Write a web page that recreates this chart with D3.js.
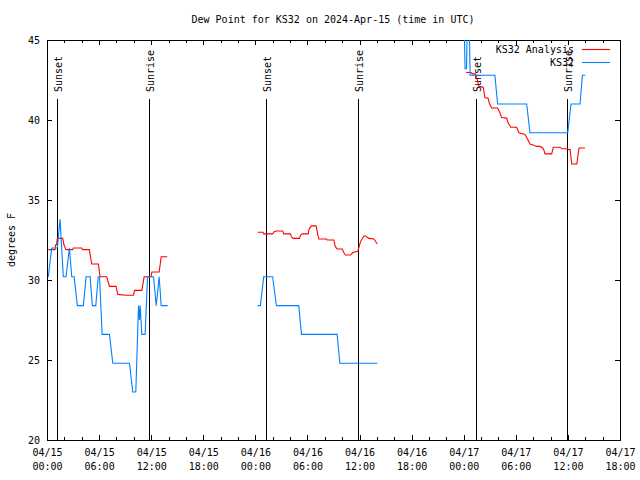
<!DOCTYPE html>
<html><head><meta charset="utf-8">
<script src="https://cdn.jsdelivr.net/npm/d3@7"></script>
<style>
body{margin:0;background:#fff;}
text{font-family:"DejaVu Sans Mono",monospace;font-size:10px;fill:#000;}
</style></head>
<body><svg id="c" width="640" height="480"></svg>
<script>
// hours after 2024-04-15 00:00 UTC
const titleText = "Dew Point for KS32 on 2024-Apr-15 (time in UTC)";
const yTicks = [20, 25, 30, 35, 40, 45];
const seriesNames = ["KS32 Analysis", "KS32"];
const seriesColors = ["#ff0000", "#0080ff"];
const sunLabels = ["Sunset", "Sunrise", "Sunset", "Sunrise", "Sunset", "Sunrise"];
const sunHours = [1.19, 11.78, 25.22, 35.82, 49.41, 59.89];

const analysis1 = [[0.15,31.9],[0.92,31.9],[1.0,32.2],[1.1,32.2],[1.19,32.6],[1.81,32.6],[1.95,32.2],[2.19,31.9],[2.95,31.9],[3.04,32.0],[4.0,32.0],[4.11,31.9],[4.88,31.9],[5.15,31.0],[5.92,31.0],[6.12,30.2],[6.88,30.2],[7.19,29.6],[7.96,29.6],[8.15,29.1],[9.12,29.05],[9.96,29.05],[10.08,29.35],[10.92,29.35],[11.19,30.2],[12.0,30.2],[12.08,30.5],[12.92,30.5],[13.15,31.45],[13.85,31.45]];
const analysis2 = [[24.27,32.98],[24.88,32.98],[24.96,32.88],[25.99,32.88],[26.12,33.0],[26.38,33.06],[27.15,33.06],[27.27,32.88],[28.04,32.88],[28.15,32.7],[28.35,32.6],[29.08,32.6],[29.2,32.8],[29.38,32.88],[30.08,32.88],[30.2,33.2],[30.46,33.38],[31.0,33.38],[31.2,32.8],[31.31,32.56],[32.19,32.56],[32.27,32.5],[33.04,32.5],[33.2,32.1],[33.42,31.94],[34.0,31.94],[34.2,31.7],[34.38,31.56],[34.96,31.56],[35.2,31.7],[35.54,31.77],[35.81,31.8],[36.11,32.4],[36.5,32.75],[36.69,32.75],[37.08,32.6],[37.65,32.56],[38.04,32.25]];
const analysis3 = [[48.25,42.98],[48.9,42.95],[49.0,42.88],[49.36,42.88],[49.59,42.46],[49.75,42.1],[50.25,42.05],[50.44,41.4],[50.82,41.35],[50.95,41.05],[51.21,40.75],[51.9,40.75],[52.17,40.45],[52.36,40.15],[52.94,40.12],[53.13,39.8],[53.44,39.55],[54.09,39.55],[54.36,39.2],[55.05,39.1],[55.36,38.8],[55.63,38.5],[55.9,38.45],[56.4,38.35],[56.78,38.35],[57.1,38.25],[57.25,38.1],[57.36,37.88],[58.13,37.88],[58.32,38.3],[59.09,38.3],[59.3,38.2],[59.67,38.2],[60.25,38.15],[60.44,37.25],[61.02,37.25],[61.28,38.25],[61.98,38.25]];

const obs1 = [[0.15,30.2],[0.54,32.0],[1.19,32.0],[1.5,33.8],[1.88,30.2],[2.19,30.2],[2.58,32.0],[2.85,30.2],[3.12,30.2],[3.5,28.4],[4.19,28.4],[4.5,30.2],[4.96,30.2],[5.23,28.4],[5.62,28.4],[5.9,30.2],[6.05,30.2],[6.35,26.6],[7.19,26.6],[7.58,24.8],[9.5,24.8],[9.88,23.0],[10.23,23.0],[10.54,28.4],[10.65,27.5],[10.73,28.4],[10.92,26.6],[11.3,26.6],[11.58,30.2],[12.27,30.2],[12.58,28.4],[12.92,30.2],[13.15,28.4],[13.92,28.4]];
const obs2 = [[24.27,28.4],[24.58,28.4],[24.96,30.2],[25.99,30.2],[26.42,28.4],[29.0,28.4],[29.31,26.6],[33.42,26.6],[33.73,24.8],[38.04,24.8]];
const obs3 = [[48.05,46.4],[48.15,43.2],[48.32,43.2],[48.42,46.4],[48.62,46.4],[48.74,42.8],[51.59,42.8],[51.9,41.0],[55.25,41.0],[55.63,39.2],[59.98,39.2],[60.36,41.0],[61.4,41.0],[61.67,42.8],[61.98,42.8]];

const analysisSegments = [analysis1, analysis2, analysis3];
const obsSegments = [obs1, obs2, obs3];

const base = Date.UTC(2024, 3, 15, 0, 0);
const toDate = h => new Date(base + h * 3600000);

const L = 47, R = 620, T = 40, B = 440;
const svg = d3.select("#c");
svg.append("rect").attr("width",640).attr("height",480).attr("fill","#fff");

const x = d3.scaleUtc().domain([toDate(0), toDate(66)]).range([L, R]);
const y = d3.scaleLinear().domain([20, 45]).range([B, T]);

svg.append("defs").append("clipPath").attr("id","clip")
  .append("rect").attr("x",L).attr("y",T).attr("width",R-L).attr("height",B-T);

// title
svg.append("text").attr("x",333).attr("y",23).attr("text-anchor","middle").text(titleText);

const majorTicks = d3.utcHour.every(6).range(toDate(0), toDate(66.01));
const minorTicks = d3.utcHour.every(2).range(toDate(0), toDate(66.01)).filter(d => d.getUTCHours() % 6 !== 0);

function styleAxis(g){ g.select(".domain").remove(); g.selectAll("line").attr("stroke","#000").attr("shape-rendering","crispEdges"); }

// bottom axis
const gb = svg.append("g").attr("transform",`translate(0,${B})`)
  .call(d3.axisBottom(x).tickValues(majorTicks).tickSize(-5).tickPadding(9).tickFormat(d3.utcFormat("%m/%d")));
styleAxis(gb);
gb.selectAll(".tick text").attr("font-family",null).attr("font-size",null).each(function(d){
  const t = d3.select(this);
  t.text(null);
  t.append("tspan").attr("x",0).attr("dy","0.71em").text(d3.utcFormat("%m/%d")(d));
  t.append("tspan").attr("x",0).attr("dy","1.4em").text(d3.utcFormat("%H:%M")(d));
}).attr("dy",null).attr("y",9);
svg.append("g").attr("transform",`translate(0,${B})`)
  .call(d3.axisBottom(x).tickValues(minorTicks).tickSize(-3).tickFormat("")).call(styleAxis);
// top axis
svg.append("g").attr("transform",`translate(0,${T})`)
  .call(d3.axisTop(x).tickValues(majorTicks).tickSize(-5).tickFormat("")).call(styleAxis);
svg.append("g").attr("transform",`translate(0,${T})`)
  .call(d3.axisTop(x).tickValues(minorTicks).tickSize(-3).tickFormat("")).call(styleAxis);
// left / right axes
const gl = svg.append("g").attr("transform",`translate(${L},0)`)
  .call(d3.axisLeft(y).tickValues(yTicks).tickSize(-5).tickPadding(7).tickFormat(d3.format("d")));
styleAxis(gl);
gl.selectAll(".tick text").attr("font-family",null).attr("font-size",null);
svg.append("g").attr("transform",`translate(${R},0)`)
  .call(d3.axisRight(y).tickValues(yTicks).tickSize(-5).tickFormat("")).call(styleAxis);

// frame
svg.append("rect").attr("x",L).attr("y",T).attr("width",R-L).attr("height",B-T)
  .attr("fill","none").attr("stroke","#000").attr("shape-rendering","crispEdges");

// y label
svg.append("text").attr("transform",`translate(15,240) rotate(-90)`).attr("text-anchor","middle").text("degrees F");

// sun lines
sunHours.forEach((h,i) => {
  const xx = Math.round(x(toDate(h))) + 0.5;
  svg.append("line").attr("x1",xx).attr("x2",xx).attr("y1",99).attr("y2",B)
    .attr("stroke","#000").attr("stroke-width",1);
  svg.append("text").attr("transform",`translate(${xx+4.5},92) rotate(-90)`)
    .attr("text-anchor","start").text(sunLabels[i]);
});

// data lines
const line = d3.line().x(d => x(toDate(d[0]))).y(d => y(d[1]));
const gd = svg.append("g").attr("clip-path","url(#clip)");
analysisSegments.forEach(seg => gd.append("path").attr("d",line(seg)).attr("fill","none").attr("stroke",seriesColors[0]).attr("stroke-width",1.1));
obsSegments.forEach(seg => gd.append("path").attr("d",line(seg)).attr("fill","none").attr("stroke",seriesColors[1]).attr("stroke-width",1.1));

// legend
seriesNames.forEach((n,i) => {
  const ly = 49 + i*13;
  svg.append("text").attr("x",574).attr("y",ly+4).attr("text-anchor","end").text(n);
  svg.append("line").attr("x1",582).attr("x2",610).attr("y1",ly+0.5).attr("y2",ly+0.5)
    .attr("stroke",seriesColors[i]).attr("stroke-width",1.1);
});
</script></body></html>
